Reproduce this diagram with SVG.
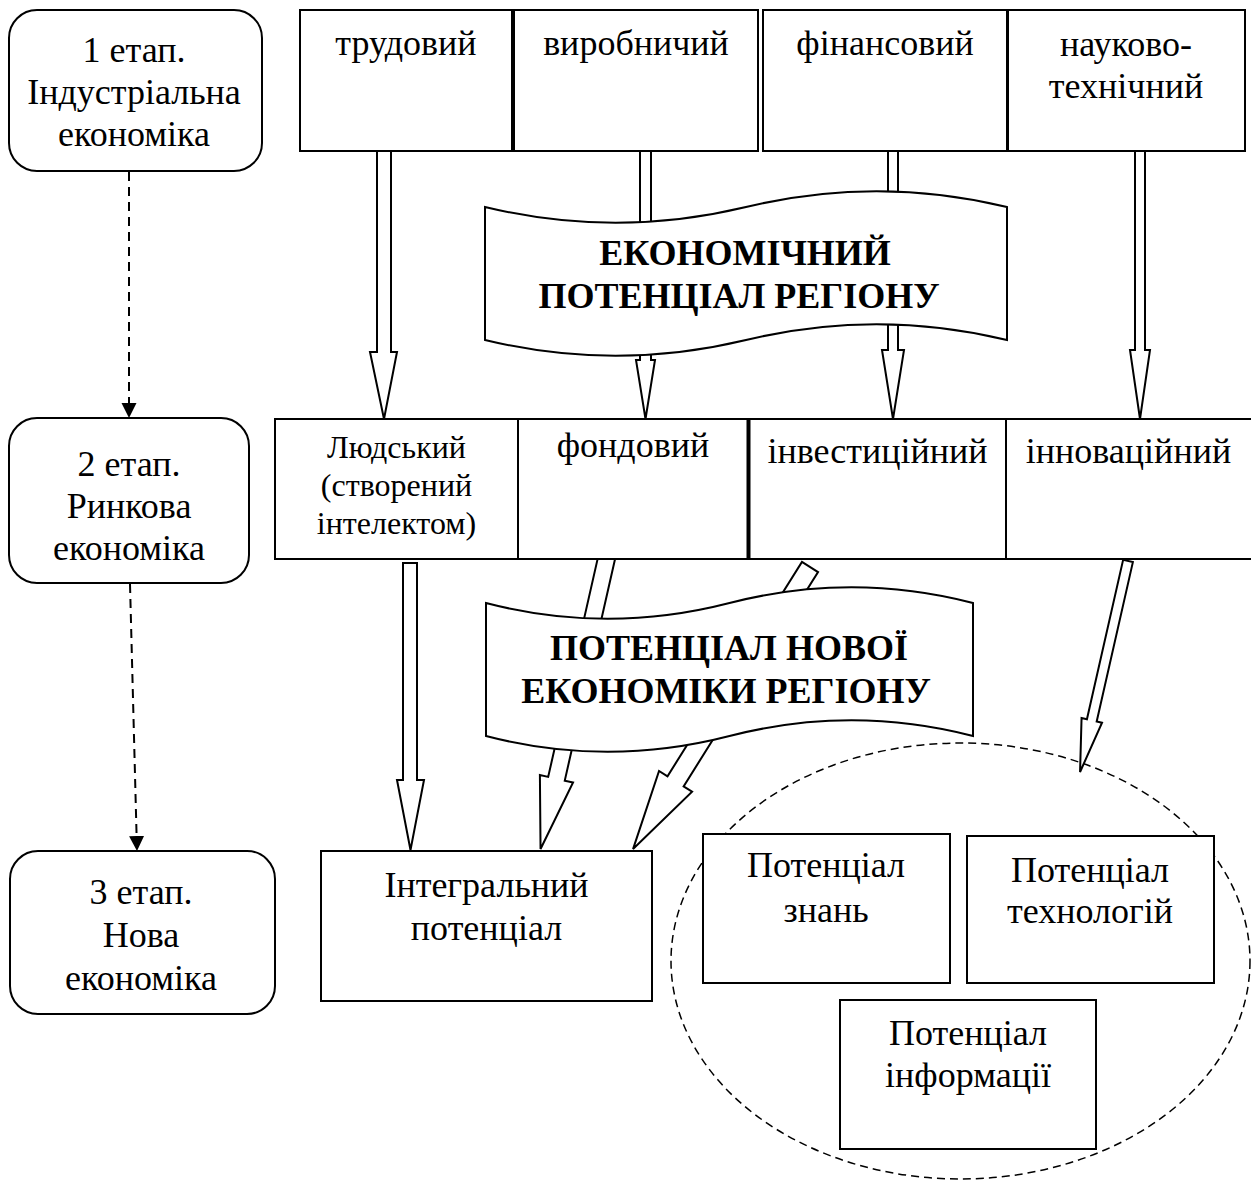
<svg xmlns="http://www.w3.org/2000/svg" width="1251" height="1180" viewBox="0 0 1251 1180">
<style>
.box{fill:#fff;stroke:#000;stroke-width:2}
.t{font-family:"Liberation Serif","Times New Roman",serif;font-size:36px;text-anchor:middle;fill:#000}
.s{font-size:32px}
.b{font-weight:bold}
.arr{fill:#fff;stroke:#000;stroke-width:2;stroke-linejoin:miter}
.dash{stroke:#000;stroke-width:2;stroke-dasharray:9 6;fill:none}
.ell{fill:none;stroke:#000;stroke-width:1.5;stroke-dasharray:8 5}
</style>
<defs>
<marker id="head" markerUnits="userSpaceOnUse" markerWidth="16" markerHeight="16" viewBox="0 0 16 16" refX="0" refY="7.5" orient="auto">
<path d="M0,0 L15,7.5 L0,15 z" fill="#000"/>
</marker>
</defs>
<rect width="1251" height="1180" fill="#fff"/>

<g id="group-circle">
<ellipse class="ell" cx="960.5" cy="961" rx="289.5" ry="218"/>
</g>

<g id="connectors">
<line class="dash" x1="129" y1="172" x2="129" y2="403" marker-end="url(#head)"/>
<line class="dash" x1="130" y1="584" x2="136.6" y2="836" marker-end="url(#head)"/>
<polygon class="arr" points="377,151 391,151 391,352 397,352 384,419 370,352 377,352"/>
<polygon class="arr" points="640,151 651,151 651,360 655,360 645.5,419 636,360 640,360"/>
<polygon class="arr" points="888,151 898,151 898,350 904,350 893,419 882,350 888,350"/>
<polygon class="arr" points="1135,151 1145,151 1145,350 1150,350 1140,419 1130,350 1135,350"/>
<polygon class="arr" points="403,563 417,563 417,780 424,780 410.5,850 397,780 403,780"/>
<polygon class="arr" transform="translate(607,556) rotate(12.78)" points="-8.5,0 8.5,0 8.5,228.4 17,228.4 0,300.4 -17,228.4 -8.5,228.4"/>
<polygon class="arr" transform="translate(810,567) rotate(32.1)" points="-9.5,0 9.5,0 9.5,253 19.5,253 0,333 -19.5,253 -9.5,253"/>
<polygon class="arr" transform="translate(1128,561) rotate(12.8)" points="-5,0 5,0 5,163.4 10.5,163.4 0,216.4 -10.5,163.4 -5,163.4"/>
</g>

<g id="banner-economic">
<path class="box" d="M485,207 C572,228 659,228 746,207 C833,186 920,186 1007,207 L1007,340 C920,319 833,319 746,340 C659,361 572,361 485,340 Z"/>
<text class="t b" x="745" y="265">ЕКОНОМІЧНИЙ</text>
<text class="t b" x="739" y="308">ПОТЕНЦІАЛ РЕГІОНУ</text>
</g>

<g id="banner-new">
<path class="box" d="M486,603 C567,624 648,624 729.5,603 C811,582 892,582 973,603 L973,736 C892,715 811,715 729.5,736 C648,757 567,757 486,736 Z"/>
<text class="t b" x="729" y="660">ПОТЕНЦІАЛ НОВОЇ</text>
<text class="t b" x="726" y="703">ЕКОНОМІКИ РЕГІОНУ</text>
</g>

<g id="stage1">
<rect class="box" x="9" y="10" width="253" height="161" rx="28"/>
<text class="t" x="134" y="62">1 етап.</text>
<text class="t" x="134" y="104">Індустріальна</text>
<text class="t" x="134" y="146">економіка</text>
</g>
<g id="stage2">
<rect class="box" x="9" y="418" width="240" height="165" rx="28"/>
<text class="t" x="129" y="476">2 етап.</text>
<text class="t" x="129" y="518">Ринкова</text>
<text class="t" x="129" y="560">економіка</text>
</g>
<g id="stage3">
<rect class="box" x="10" y="851" width="265" height="163" rx="28"/>
<text class="t" x="141" y="904">3 етап.</text>
<text class="t" x="141" y="947">Нова</text>
<text class="t" x="141" y="990">економіка</text>
</g>

<g id="labour">
<rect class="box" x="300" y="10" width="212" height="141"/>
<text class="t" x="406" y="55">трудовий</text>
</g>
<g id="production">
<rect class="box" x="514" y="10" width="244" height="141"/>
<text class="t" x="636" y="55">виробничий</text>
</g>
<g id="financial">
<rect class="box" x="763" y="10" width="244" height="141"/>
<text class="t" x="885" y="55">фінансовий</text>
</g>
<g id="scitech">
<rect class="box" x="1008" y="10" width="237" height="141"/>
<text class="t" x="1126" y="56">науково-</text>
<text class="t" x="1126" y="98">технічний</text>
</g>

<g id="human">
<rect class="box" x="275" y="419" width="243" height="140"/>
<text class="t s" x="396.5" y="458">Людський</text>
<text class="t s" x="396.5" y="496">(створений</text>
<text class="t s" x="396.5" y="534">інтелектом)</text>
</g>
<g id="stock">
<rect class="box" x="518" y="419" width="230" height="140"/>
<text class="t" x="633" y="457">фондовий</text>
</g>
<g id="investment">
<rect class="box" x="749" y="419" width="257" height="140"/>
<line x1="748.5" y1="419" x2="748.5" y2="559" stroke="#000" stroke-width="4"/>
<text class="t" x="877.5" y="463">інвестиційний</text>
</g>
<g id="innovation">
<rect class="box" x="1006" y="419" width="250" height="140"/>
<text class="t" x="1128.5" y="463">інноваційний</text>
</g>

<g id="integral">
<rect class="box" x="321" y="851" width="331" height="150"/>
<text class="t" x="486.5" y="897">Інтегральний</text>
<text class="t" x="486.5" y="940">потенціал</text>
</g>
<g id="knowledge">
<rect class="box" x="703" y="834" width="247" height="149"/>
<text class="t" x="826" y="877">Потенціал</text>
<text class="t" x="826" y="922">знань</text>
</g>
<g id="technology">
<rect class="box" x="967" y="836" width="247" height="147"/>
<text class="t" x="1090" y="882">Потенціал</text>
<text class="t" x="1090" y="923">технологій</text>
</g>
<g id="information">
<rect class="box" x="840" y="1000" width="256" height="149"/>
<text class="t" x="968" y="1045">Потенціал</text>
<text class="t" x="968" y="1087">інформації</text>
</g>
</svg>
